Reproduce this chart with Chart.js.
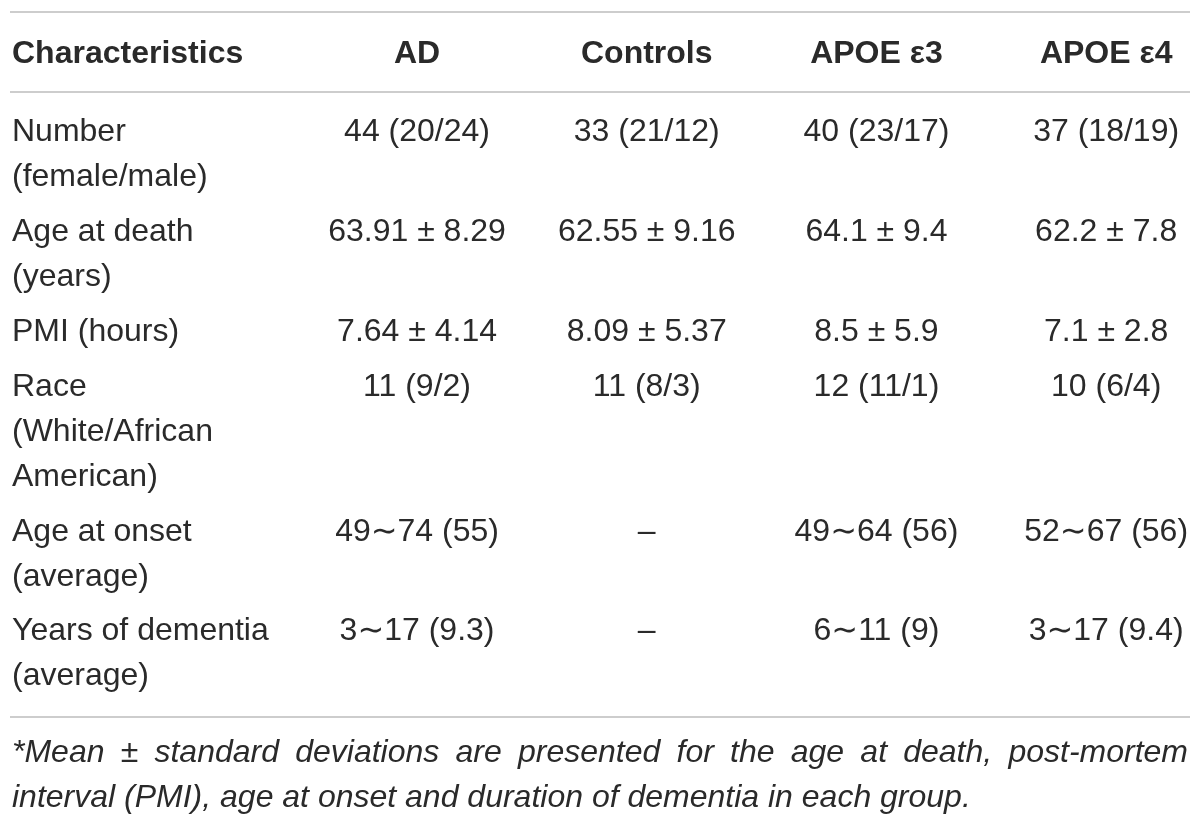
<!DOCTYPE html>
<html>
<head>
<meta charset="UTF-8">
<title>Characteristics table</title>
<script src="https://cdn.jsdelivr.net/npm/chart.js"></script>
<style>
  html, body { margin: 0; padding: 0; background: #fff; }
</style>
</head>
<body>
<canvas id="tableChart" width="1200" height="821"></canvas>
<script>
// table contents
var headerLabel = 'Characteristics';
var columns = ['AD', 'Controls', 'APOE \u03b53', 'APOE \u03b54'];
var rowLabels = [
    ['Number', '(female/male)'],
    ['Age at death', '(years)'],
    ['PMI (hours)'],
    ['Race', '(White/African', 'American)'],
    ['Age at onset', '(average)'],
    ['Years of dementia', '(average)']
];
var adValues      = ['44 (20/24)', '63.91 \u00b1 8.29', '7.64 \u00b1 4.14', '11 (9/2)', '49\u223c74 (55)', '3\u223c17 (9.3)'];
var controlValues = ['33 (21/12)', '62.55 \u00b1 9.16', '8.09 \u00b1 5.37', '11 (8/3)', '\u2013', '\u2013'];
var apoe3Values   = ['40 (23/17)', '64.1 \u00b1 9.4', '8.5 \u00b1 5.9', '12 (11/1)', '49\u223c64 (56)', '6\u223c11 (9)'];
var apoe4Values   = ['37 (18/19)', '62.2 \u00b1 7.8', '7.1 \u00b1 2.8', '10 (6/4)', '52\u223c67 (56)', '3\u223c17 (9.4)'];
var footnoteLines = [
    '*Mean \u00b1 standard deviations are presented for the age at death, post-mortem',
    'interval (PMI), age at onset and duration of dementia in each group.'
];

var TEXT_COLOR = '#2a2a2a';
var RULE_COLOR = '#cdcdcd';
var FONT = '"Liberation Sans", "DejaVu Sans", Arial, sans-serif';

// vertical layout in "line" units, worked out from how many lines each row label has
var GAP = 0.22, PAD = 0.89;
var rowTop = [];
var pos = 0;
for (var r = 0; r < rowLabels.length; r++) {
    rowTop[r] = pos;
    pos += rowLabels[r].length + GAP;
}
var lastLine = rowTop[rowLabels.length - 1] + rowLabels[rowLabels.length - 1].length - 1;
var headerRule = -PAD;
var headerY = headerRule - PAD;
var topRule = headerY - PAD;
var bottomRule = lastLine + PAD;

var valueColumns = [adValues, controlValues, apoe3Values, apoe4Values];

function drawTable(){
    var ctx = document.getElementById('tableChart').getContext('2d');

    var datasets = valueColumns.map(function(vals, c){
        return {
            label: columns[c],
            cellText: vals,
            data: vals.map(function(v, i){ return {x: c + 1, y: rowTop[i]}; }),
            pointRadius: 0,
            pointHoverRadius: 0,
            showLine: false
        };
    });

    var tableText = {
        id: 'tableText',
        afterDatasetsDraw: function(chart){
            var c2 = chart.ctx, area = chart.chartArea;
            var xs = chart.scales.x, ys = chart.scales.y;
            c2.save();
            c2.fillStyle = TEXT_COLOR;
            c2.textBaseline = 'middle';

            // header row
            c2.font = 'bold 32px ' + FONT;
            c2.textAlign = 'left';
            c2.fillText(headerLabel, area.left + 2, ys.getPixelForValue(headerY) + 2);
            c2.textAlign = 'center';
            columns.forEach(function(col, i){
                c2.fillText(col, xs.getPixelForValue(i + 1), ys.getPixelForValue(headerY) + 2);
            });

            // row labels
            c2.font = '32px ' + FONT;
            c2.textAlign = 'left';
            rowLabels.forEach(function(lines, r){
                lines.forEach(function(t, k){
                    c2.fillText(t, area.left + 2, ys.getPixelForValue(rowTop[r] + k));
                });
            });

            // cell values, at the points placed by the scales
            c2.textAlign = 'center';
            chart.data.datasets.forEach(function(ds, d){
                chart.getDatasetMeta(d).data.forEach(function(pt, i){
                    c2.fillText(ds.cellText[i], pt.x, pt.y);
                });
            });

            // footnote, first line justified
            c2.font = 'italic 32px ' + FONT;
            c2.textAlign = 'left';
            var left = area.left + 2, right = area.right - 2;
            footnoteLines.forEach(function(line, k){
                var yy = ys.getPixelForValue(bottomRule + 0.8 + k);
                if (k < footnoteLines.length - 1) {
                    var words = line.split(' ');
                    var total = 0;
                    words.forEach(function(w){ total += c2.measureText(w).width; });
                    var space = (right - left - total) / (words.length - 1);
                    var xx = left;
                    words.forEach(function(w){
                        c2.fillText(w, xx, yy);
                        xx += c2.measureText(w).width + space;
                    });
                } else {
                    c2.fillText(line, left, yy);
                }
            });
            c2.restore();
        }
    };

    new Chart(ctx, {
        type: 'scatter',
        data: { datasets: datasets },
        options: {
            responsive: false,
            animation: false,
            events: [],
            layout: { padding: { left: 10, right: 10, top: 12, bottom: 0 } },
            plugins: {
                legend: { display: false },
                tooltip: { enabled: false }
            },
            scales: {
                x: {
                    type: 'linear',
                    display: false,
                    min: -0.772,
                    max: 4.365
                },
                y: {
                    type: 'linear',
                    reverse: true,
                    min: topRule,
                    max: topRule + 17.98,
                    afterBuildTicks: function(axis){
                        axis.ticks = [topRule, headerRule, bottomRule].map(function(v){ return {value: v}; });
                    },
                    ticks: { display: false },
                    border: { display: false },
                    grid: {
                        drawTicks: false,
                        color: RULE_COLOR,
                        lineWidth: 2
                    }
                }
            }
        },
        plugins: [tableText]
    });
}
drawTable();
</script>
</body>
</html>
